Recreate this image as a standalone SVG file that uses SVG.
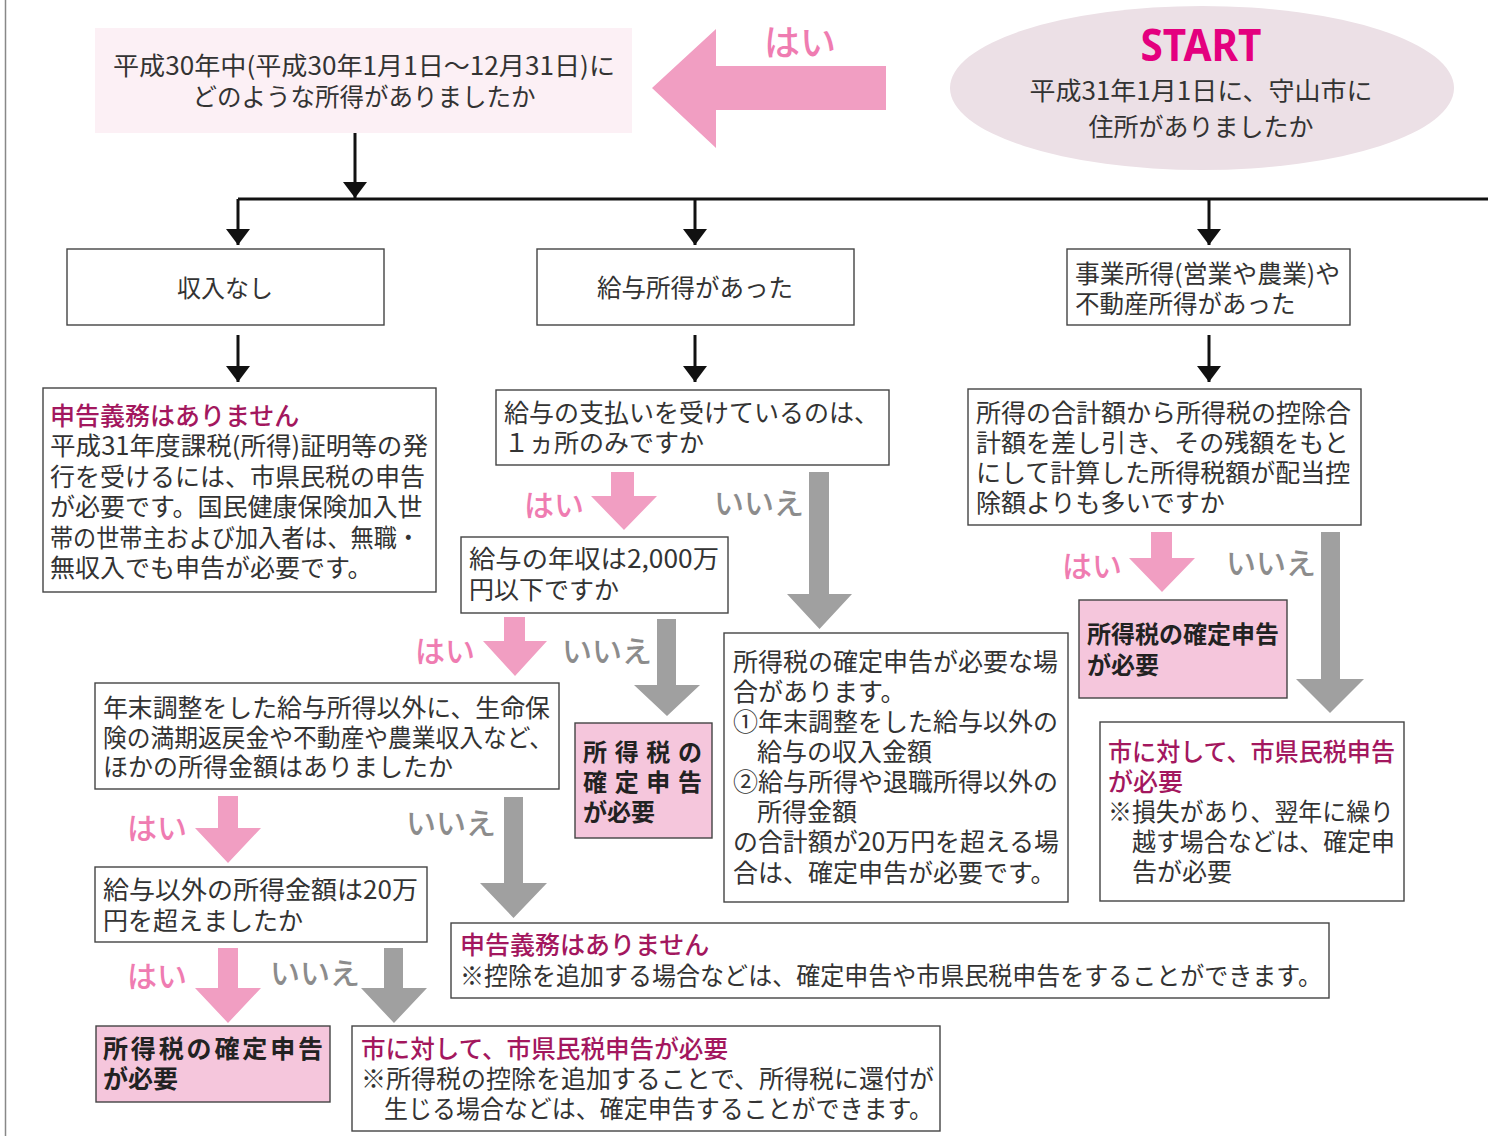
<svg xmlns="http://www.w3.org/2000/svg" width="1488" height="1136" viewBox="0 0 1488 1136">
<style>
.t{font-family:"Noto Sans CJK JP","Noto Sans",sans-serif;font-size:25px;fill:#333;dominant-baseline:central;transform:translateY(-2px)}
.c{text-anchor:middle}
.ttl{fill:#a3175e;font-weight:500}
.b{font-weight:700;fill:#222;font-size:24px}
.box{fill:#fff;stroke:#444;stroke-width:1.4}
.pbox{fill:#f5c6dc;stroke:#444;stroke-width:1.4}
.yes{fill:#ef7cb1;font-size:30px;font-weight:500}
.no{fill:#8c8c8c;font-size:30px;font-weight:500}
.pa{fill:#f19ec2}
.ga{fill:#a0a0a0}
.ln{stroke:#111;stroke-width:3;fill:none}
</style>
<defs>
<marker id="ah" markerUnits="userSpaceOnUse" markerWidth="16" markerHeight="24" viewBox="0 0 16 24" refX="16" refY="12" orient="auto">
<path d="M0,0 L16,12 L0,24 z" fill="#111"/>
</marker>
</defs>
<rect width="1488" height="1136" fill="#fff"/>
<line x1="5.5" y1="0" x2="5.5" y2="1136" stroke="#888" stroke-width="1.5"/>

<g id="connectors">
<line class="ln" x1="355" y1="133" x2="355" y2="198" marker-end="url(#ah)"/>
<path class="ln" d="M238,199 H1488" stroke-width="3.5"/>
<line class="ln" x1="238" y1="199" x2="238" y2="245" marker-end="url(#ah)"/>
<line class="ln" x1="695" y1="199" x2="695" y2="245" marker-end="url(#ah)"/>
<line class="ln" x1="1209" y1="199" x2="1209" y2="245" marker-end="url(#ah)"/>
<line class="ln" x1="238" y1="335" x2="238" y2="382" marker-end="url(#ah)"/>
<line class="ln" x1="695" y1="335" x2="695" y2="382" marker-end="url(#ah)"/>
<line class="ln" x1="1209" y1="335" x2="1209" y2="382" marker-end="url(#ah)"/>
<polygon class="pa" points="652,88 716,29 716,66 886,66 886,110 716,110 716,148"/>
<polygon class="pa" points="611,472 634,472 634,496 657,496 624,530 591,496 611,496"/>
<polygon class="pa" points="504,617 525,617 525,641 547,641 515,676 483,641 504,641"/>
<polygon class="pa" points="1151,532 1172,532 1172,558 1195,558 1162,592 1129,558 1151,558"/>
<polygon class="pa" points="218,796 238,796 238,828 261,828 228,863 195,828 218,828"/>
<polygon class="pa" points="218,948 238,948 238,988 261,988 228,1023 195,988 218,988"/>
<polygon class="ga" points="809,472 829,472 829,594 852,594 819.5,629 787,594 809,594"/>
<polygon class="ga" points="657,619 676,619 676,685 700,685 667,716 634,685 657,685"/>
<polygon class="ga" points="1321,532 1340,532 1340,679 1364,679 1330,713 1296,679 1321,679"/>
<polygon class="ga" points="504,797 523,797 523,883 547,883 513.5,918 480,883 504,883"/>
<polygon class="ga" points="384,948 403,948 403,988 427,988 394,1023 361,988 384,988"/>
<text class="t yes" x="800" y="42" text-anchor="middle" style="font-size:36px">はい</text>
<text class="t yes" x="524" y="505">はい</text>
<text class="t no" x="714" y="503">いいえ</text>
<text class="t yes" x="415" y="651">はい</text>
<text class="t no" x="562" y="651">いいえ</text>
<text class="t yes" x="1062" y="566">はい</text>
<text class="t no" x="1226" y="563">いいえ</text>
<text class="t yes" x="127" y="828">はい</text>
<text class="t no" x="406" y="823">いいえ</text>
<text class="t yes" x="127" y="976">はい</text>
<text class="t no" x="270" y="973">いいえ</text>
</g>

<g id="start">
<ellipse cx="1202" cy="88" rx="252" ry="82" fill="#ece0e6"/>
<text class="t c" x="1201" y="46" style="font-family:'Noto Sans','Liberation Sans',sans-serif;font-size:44px;font-weight:700;fill:#e4007f" textLength="121" lengthAdjust="spacingAndGlyphs">START</text>
<text class="t c" x="1201" y="91" textLength="343" lengthAdjust="spacingAndGlyphs">平成31年1月1日に、守山市に</text>
<text class="t c" x="1201" y="127">住所がありましたか</text>
</g>

<g id="q-year">
<rect x="95" y="28" width="537" height="105" fill="#fcf0f5"/>
<text class="t c" x="364" y="66" textLength="502" lengthAdjust="spacingAndGlyphs">平成30年中(平成30年1月1日〜12月31日)に</text>
<text class="t c" x="364" y="97" style="font-size:24.5px">どのような所得がありましたか</text>
</g>

<g id="no-income">
<rect class="box" x="67" y="249" width="317" height="76"/>
<text class="t c" x="225" y="288" style="font-size:24px">収入なし</text>
</g>
<g id="salary">
<rect class="box" x="537" y="249" width="317" height="76"/>
<text class="t c" x="695" y="288" style="font-size:24.5px">給与所得があった</text>
</g>
<g id="business">
<rect class="box" x="1067" y="249" width="283" height="76"/>
<text class="t" x="1075" y="274" textLength="265" lengthAdjust="spacingAndGlyphs">事業所得(営業や農業)や</text>
<text class="t" x="1075" y="304" style="font-size:24.5px">不動産所得があった</text>
</g>

<g id="no-duty-left">
<rect class="box" x="43" y="388" width="393" height="204"/>
<text class="t ttl" x="50" y="416">申告義務はありません</text>
<text class="t" x="50" y="446" textLength="378" lengthAdjust="spacingAndGlyphs">平成31年度課税(所得)証明等の発</text>
<text class="t" x="50" y="477">行を受けるには、市県民税の申告</text>
<text class="t" x="50" y="507">が必要です。国民健康保険加入世</text>
<text class="t" x="50" y="538" textLength="370" lengthAdjust="spacingAndGlyphs">帯の世帯主および加入者は、無職・</text>
<text class="t" x="50" y="568">無収入でも申告が必要です。</text>
</g>

<g id="q-one-place">
<rect class="box" x="496" y="390" width="393" height="75"/>
<text class="t" x="504" y="413">給与の支払いを受けているのは、</text>
<text class="t" x="504" y="443">１ヵ所のみですか</text>
</g>

<g id="q-20m">
<rect class="box" x="461" y="537" width="267" height="76"/>
<text class="t" x="469" y="559" textLength="250" lengthAdjust="spacingAndGlyphs">給与の年収は2,000万</text>
<text class="t" x="469" y="590">円以下ですか</text>
</g>

<g id="q-other-income">
<rect class="box" x="95" y="683" width="464" height="106"/>
<text class="t" x="103" y="708" textLength="447" lengthAdjust="spacingAndGlyphs">年末調整をした給与所得以外に、生命保</text>
<text class="t" x="103" y="738" textLength="450" lengthAdjust="spacingAndGlyphs">険の満期返戻金や不動産や農業収入など、</text>
<text class="t" x="103" y="767">ほかの所得金額はありましたか</text>
</g>

<g id="q-200k">
<rect class="box" x="95" y="867" width="332" height="75"/>
<text class="t" x="103" y="890" textLength="315" lengthAdjust="spacingAndGlyphs">給与以外の所得金額は20万</text>
<text class="t" x="103" y="921">円を超えましたか</text>
</g>

<g id="tax-return-mid">
<rect class="pbox" x="575" y="723" width="137" height="115"/>
<text class="t b" x="583" y="752" textLength="119" lengthAdjust="spacing">所得税の</text>
<text class="t b" x="583" y="782" textLength="119" lengthAdjust="spacing">確定申告</text>
<text class="t b" x="583" y="812">が必要</text>
</g>

<g id="note-mid">
<rect class="box" x="724" y="633" width="344" height="269"/>
<text class="t" x="733" y="662">所得税の確定申告が必要な場</text>
<text class="t" x="733" y="692">合があります。</text>
<text class="t" x="733" y="722">①年末調整をした給与以外の</text>
<text class="t" x="757" y="752">給与の収入金額</text>
<text class="t" x="733" y="782">②給与所得や退職所得以外の</text>
<text class="t" x="757" y="812">所得金額</text>
<text class="t" x="733" y="842" textLength="326" lengthAdjust="spacingAndGlyphs">の合計額が20万円を超える場</text>
<text class="t" x="733" y="873">合は、確定申告が必要です。</text>
</g>

<g id="q-dividend">
<rect class="box" x="968" y="389" width="393" height="136"/>
<text class="t" x="976" y="413">所得の合計額から所得税の控除合</text>
<text class="t" x="976" y="443">計額を差し引き、その残額をもと</text>
<text class="t" x="976" y="473">にして計算した所得税額が配当控</text>
<text class="t" x="976" y="503">除額よりも多いですか</text>
</g>

<g id="tax-return-right">
<rect class="pbox" x="1079" y="600" width="208" height="98"/>
<text class="t b" x="1087" y="634">所得税の確定申告</text>
<text class="t b" x="1087" y="665">が必要</text>
</g>

<g id="city-right">
<rect class="box" x="1100" y="722" width="304" height="179"/>
<text class="t ttl" x="1108" y="752" textLength="287" lengthAdjust="spacingAndGlyphs">市に対して、市県民税申告</text>
<text class="t ttl" x="1108" y="782">が必要</text>
<text class="t" x="1108" y="812" textLength="286" lengthAdjust="spacingAndGlyphs">※損失があり、翌年に繰り</text>
<text class="t" x="1132" y="842" textLength="263" lengthAdjust="spacingAndGlyphs">越す場合などは、確定申</text>
<text class="t" x="1132" y="872">告が必要</text>
</g>

<g id="no-duty-wide">
<rect class="box" x="451" y="923" width="878" height="75"/>
<text class="t ttl" x="460" y="945">申告義務はありません</text>
<text class="t" x="460" y="976" textLength="862" lengthAdjust="spacingAndGlyphs">※控除を追加する場合などは、確定申告や市県民税申告をすることができます。</text>
</g>

<g id="tax-return-left">
<rect class="pbox" x="96" y="1026" width="234" height="76"/>
<text class="t b" x="103" y="1049" textLength="220" lengthAdjust="spacing" style="font-size:25px">所得税の確定申告</text>
<text class="t b" x="103" y="1079" style="font-size:25px">が必要</text>
</g>

<g id="city-bottom">
<rect class="box" x="352" y="1026" width="588" height="105"/>
<text class="t ttl" x="361" y="1049" textLength="367" lengthAdjust="spacingAndGlyphs">市に対して、市県民税申告が必要</text>
<text class="t" x="361" y="1079" textLength="573" lengthAdjust="spacingAndGlyphs">※所得税の控除を追加することで、所得税に還付が</text>
<text class="t" x="384" y="1109" textLength="549" lengthAdjust="spacingAndGlyphs">生じる場合などは、確定申告することができます。</text>
</g>
</svg>
